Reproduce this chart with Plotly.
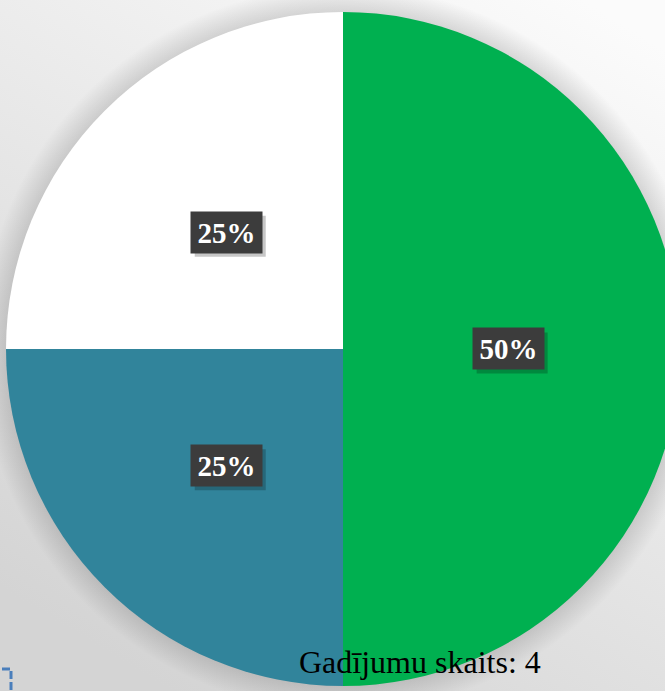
import base64, math
import plotly.graph_objects as go

# ---- data ----
categories = ["Kategorija A", "Kategorija B", "Kategorija C"]
values = [2, 1, 1]
colors = ["#00B050", "#31849B", "#FFFFFF"]
footer_text = "Gadījumu skaits: 4"

# figure is slightly wider than the window so the pie can run off the right edge
W, H = 686, 691
cx_px, cy_top, R = 343.0, 349.0, 337.0
cy_px = H - cy_top  # measured from bottom
dom_x = [(cx_px - R) / W, (cx_px + R) / W]
dom_y = [(cy_px - R) / H, (cy_px + R) / H]

# background (gradient + soft halo)
halo_r = R + 26
svg = f"""<svg xmlns='http://www.w3.org/2000/svg' width='{W}' height='{H}' viewBox='0 0 {W} {H}'>
<defs>
<linearGradient id='g' x1='0.85' y1='0' x2='0.25' y2='1'>
<stop offset='0' stop-color='#fbfbfb'/><stop offset='1' stop-color='#d4d4d4'/>
</linearGradient>
<radialGradient id='h' cx='{cx_px}' cy='{cy_top}' r='{halo_r}' gradientUnits='userSpaceOnUse'>
<stop offset='0' stop-color='#000' stop-opacity='0.13'/>
<stop offset='{R/halo_r:.3f}' stop-color='#000' stop-opacity='0.13'/>
<stop offset='1' stop-color='#000' stop-opacity='0'/>
</radialGradient>
</defs>
<rect width='{W}' height='{H}' fill='url(#g)'/>
<circle cx='{cx_px}' cy='{cy_top}' r='{halo_r}' fill='url(#h)'/>
</svg>"""
bg_uri = "data:image/svg+xml;base64," + base64.b64encode(svg.encode()).decode()

fig = go.Figure(go.Pie(
    labels=categories, values=values, sort=False, direction="clockwise", rotation=0,
    marker=dict(colors=colors, line=dict(width=0)),
    textinfo="none", hoverinfo="label+percent", showlegend=False,
    domain=dict(x=dom_x, y=dom_y),
))

# percentage labels at half radius along each slice's mid-angle
total = sum(values)
annotations, shapes = [], []
BW, BH = 71, 41
cum = 0.0
for v in values:
    theta = 2 * math.pi * (cum + v / 2.0) / total
    cum += v
    px = cx_px + 0.49 * R * math.sin(theta)
    py = cy_px + 0.49 * R * math.cos(theta)
    txt = f"{round(100 * v / total)}%"
    shapes.append(dict(
        type="rect", xref="paper", yref="paper", layer="above",
        x0=(px - BW / 2 + 4) / W, x1=(px + BW / 2 + 4) / W,
        y0=(py - BH / 2 - 4) / H, y1=(py + BH / 2 - 4) / H,
        fillcolor="rgba(0,0,0,0.22)", line=dict(width=0),
    ))
    annotations.append(dict(
        x=px / W, y=py / H, xref="paper", yref="paper", xanchor="center", yanchor="middle",
        showarrow=False, text=f"<b>{txt}</b>",
        font=dict(family="Liberation Serif", size=29, color="white"),
        bgcolor="#3c3c3c", width=BW - 8, height=BH - 8, borderpad=4,
    ))

annotations.append(dict(
    x=297 / W, y=(H - 682) / H, xref="paper", yref="paper", xanchor="left", yanchor="bottom",
    showarrow=False, text=footer_text,
    font=dict(family="Liberation Serif", size=32, color="black"),
))

shapes.append(dict(type="path", xref="paper", yref="paper",
                   path=f"M {2/W},{(H-669)/H} L {11/W},{(H-669)/H} L {11/W},{(H-691)/H}",
                   line=dict(color="#4A7EBB", width=3, dash="8px,3px")))

fig.update_layout(
    width=W, height=H, margin=dict(l=0, r=0, t=0, b=0),
    paper_bgcolor="#e6e6e6", plot_bgcolor="rgba(0,0,0,0)",
    images=[dict(source=bg_uri, xref="paper", yref="paper", x=0, y=1, sizex=1, sizey=1,
                 sizing="stretch", xanchor="left", yanchor="top", layer="below")],
    annotations=annotations,
    shapes=shapes,
)

fig.write_html("out.html", config={"displayModeBar": False},
               post_script="document.body.style.margin='0';document.body.style.overflow='hidden';")
